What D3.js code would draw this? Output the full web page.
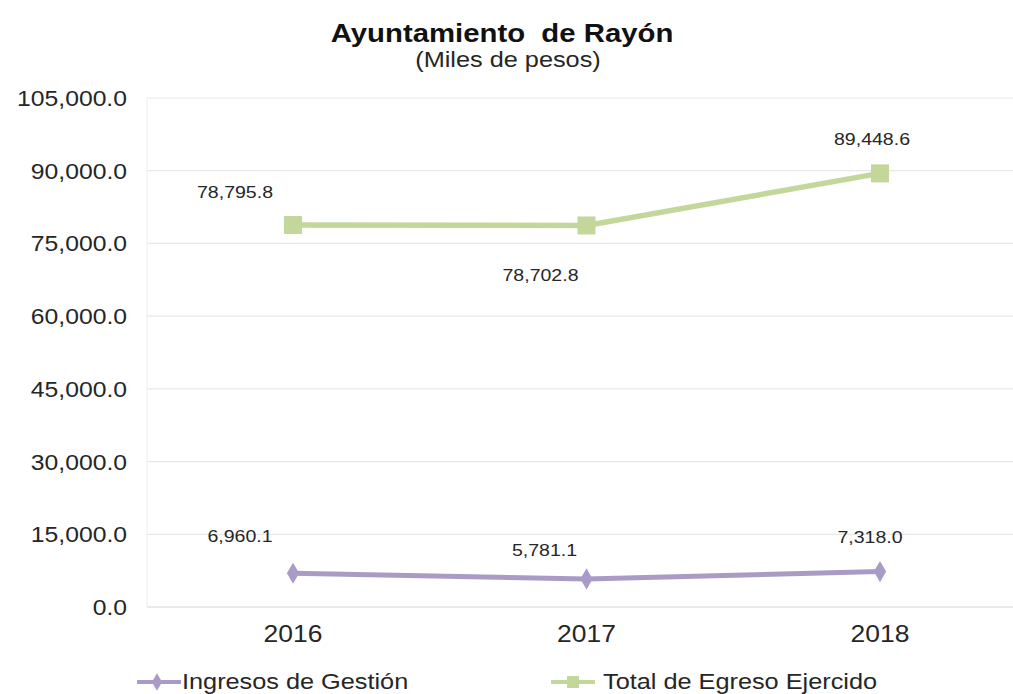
<!DOCTYPE html>
<html>
<head>
  <meta charset="utf-8">
  <title>Ayuntamiento de Rayón</title>
  <script src="https://cdn.jsdelivr.net/npm/d3@7"></script>
  <style>
    body { margin: 0; background: #fff; }
    svg { display: block; font-family: "Liberation Sans", Arial, sans-serif; }
  </style>
</head>
<body>
<svg id="chart" width="1013" height="694"></svg>
<script>
  var years = ['2016', '2017', '2018'];
  var ingresos = [6960.1, 5781.1, 7318.0];
  var egresos = [78795.8, 78702.8, 89448.6];
  var yTicks = [0, 15000, 30000, 45000, 60000, 75000, 90000, 105000];
  var seriesNames = ['Ingresos de Gestión', 'Total de Egreso Ejercido'];

  var svg = d3.select('#chart');
  var fmt = d3.format(',.1f');
  var SX = 1.15; // the source text is a bit wide

  var x = d3.scalePoint().domain(years).range([293, 880]);
  var y = d3.scaleLinear().domain([0, 105000]).range([607, 98]);

  function label(g, px, py, str, size, anchor, bold) {
    return g.append('text')
      .attr('transform', 'translate(' + px + ',' + py + ') scale(' + SX + ',1)')
      .attr('text-anchor', anchor || 'middle')
      .style('font-size', size + 'px')
      .style('font-weight', bold ? 'bold' : 'normal')
      .style('white-space', 'pre')
      .attr('fill', '#262626')
      .text(str);
  }

  // title
  label(svg, 502, 42, 'Ayuntamiento  de Rayón', 25.5, 'middle', true).attr('fill', '#111');
  label(svg, 508, 67, '(Miles de pesos)', 22, 'middle');

  // grid
  svg.append('g').selectAll('line').data(yTicks).enter().append('line')
    .attr('x1', 147).attr('x2', 1013)
    .attr('y1', function(d) { return y(d); }).attr('y2', function(d) { return y(d); })
    .attr('stroke', function(d) { return d === 0 ? '#d4d4d4' : '#e8e8e8'; })
    .attr('stroke-width', 1.2);
  svg.append('line').attr('x1', 147).attr('x2', 147)
    .attr('y1', y(105000)).attr('y2', y(0))
    .attr('stroke', '#eeeeee').attr('stroke-width', 1);

  // y labels
  var yg = svg.append('g');
  yTicks.forEach(function(d) {
    label(yg, 127, y(d) + 8, fmt(d), 21.5, 'end');
  });

  // x labels
  var xg = svg.append('g');
  years.forEach(function(d) {
    label(xg, x(d), 642, d, 23, 'middle');
  });

  var purple = '#a99bc6';
  var green = '#c3d79b';

  var line = d3.line()
    .x(function(d, i) { return x(years[i]); })
    .y(function(d) { return y(d); });

  svg.append('path').datum(ingresos).attr('d', line)
    .attr('fill', 'none').attr('stroke', purple).attr('stroke-width', 5);
  svg.append('path').datum(egresos).attr('d', line)
    .attr('fill', 'none').attr('stroke', green).attr('stroke-width', 5.5);

  var diamond = d3.symbol().type(d3.symbolDiamond).size(130);
  svg.append('g').selectAll('path').data(ingresos).enter().append('path')
    .attr('d', diamond)
    .attr('transform', function(d, i) { return 'translate(' + x(years[i]) + ',' + y(d) + ')'; })
    .attr('fill', purple);

  svg.append('g').selectAll('rect').data(egresos).enter().append('rect')
    .attr('x', function(d, i) { return x(years[i]) - 9; })
    .attr('y', function(d) { return y(d) - 9; })
    .attr('width', 18).attr('height', 18)
    .attr('fill', green);

  // data labels (offsets relative to each point)
  var ingOff = [[-53, -31], [-42, -23], [-10, -29]];
  var egrOff = [[-58, -27], [-46, 56], [-8, -28]];
  var lg = svg.append('g');
  ingresos.forEach(function(d, i) {
    label(lg, x(years[i]) + ingOff[i][0], y(d) + ingOff[i][1], fmt(d), 17, 'middle');
  });
  egresos.forEach(function(d, i) {
    label(lg, x(years[i]) + egrOff[i][0], y(d) + egrOff[i][1], fmt(d), 17, 'middle');
  });

  // legend
  var legend = svg.append('g');
  var legItems = [
    { name: seriesNames[0], color: purple, x: 137, tx: 182, kind: 'diamond' },
    { name: seriesNames[1], color: green, x: 551, tx: 603, kind: 'square' }
  ];
  legItems.forEach(function(it) {
    legend.append('line').attr('x1', it.x).attr('x2', it.x + 44)
      .attr('y1', 682).attr('y2', 682).attr('stroke', it.color).attr('stroke-width', 4);
    if (it.kind === 'diamond') {
      legend.append('path').attr('d', d3.symbol().type(d3.symbolDiamond).size(90))
        .attr('transform', 'translate(' + (it.x + 20) + ',682)').attr('fill', it.color);
    } else {
      legend.append('rect').attr('x', it.x + 16).attr('y', 676).attr('width', 12).attr('height', 12)
        .attr('fill', it.color);
    }
    label(legend, it.tx, 689, it.name, 22, 'start');
  });
</script>
</body>
</html>
